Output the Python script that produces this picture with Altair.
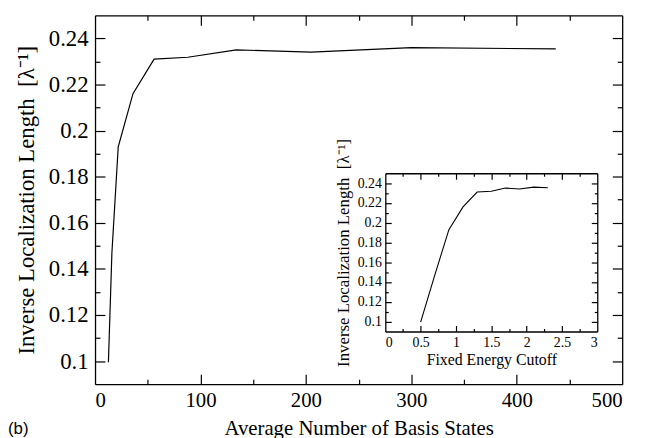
import altair as alt
import pandas as pd

# ---- data ----
basis_states = [12.7, 16, 22, 36, 56, 88, 134, 205, 300, 437]
energy_cutoff = [0.5, 0.7, 0.9, 1.1, 1.3, 1.5, 1.7, 1.9, 2.1, 2.3]
inv_loc_length = [0.0995, 0.147, 0.193, 0.216, 0.231, 0.2318, 0.235, 0.234, 0.236, 0.2354]

main_x_labels = [0, 100, 200, 300, 400, 500]
main_x_major = [100, 200, 300, 400]
main_x_minor = [50, 150, 250, 350, 450]
main_y_labels = [0.10, 0.12, 0.14, 0.16, 0.18, 0.20, 0.22, 0.24]
main_y_minor = [0.11, 0.13, 0.15, 0.17, 0.19, 0.21, 0.23]
inset_x_labels = [0, 0.5, 1, 1.5, 2, 2.5, 3]
inset_x_major = [0.5, 1, 1.5, 2, 2.5]
inset_x_minor = [0.25, 0.75, 1.25, 1.75, 2.25, 2.75]
inset_y_labels = main_y_labels
inset_y_minor = main_y_minor
panel_label = ["(b)"]

main_df = pd.DataFrame({"x": basis_states, "y": inv_loc_length})
inset_df = pd.DataFrame({"x": energy_cutoff, "y": inv_loc_length})
label_df = pd.DataFrame({"t": panel_label})

W, H = 533, 373
# inset frame, in pixels of the main plot area
IX0, IX1 = 293.5, 507.8
IYT, IYB = 159.7, 319.7

SERIF = "Liberation Serif"
YTITLE = "Inverse Localization Length\u00a0 [\u03bb\u207b\u00b9]"

common = dict(labelFont=SERIF, titleFont=SERIF, labelColor="black",
              titleColor="black", domainColor="black", tickColor="black",
              domainWidth=1.3, tickWidth=1.2, grid=False, titleFontWeight="normal")


def sc(domain, rng=None):
    if rng is None:
        return alt.Scale(domain=domain, nice=False, zero=False)
    return alt.Scale(domain=domain, range=rng, nice=False, zero=False)


def main_scales():
    return sc([0, 500]), sc([0.09, 0.25])


def inset_scales():
    return sc([0, 3], [IX0, IX1]), sc([0.09, 0.25], [IYB, IYT])


def tick_layer(df, scales, xorient, xoffset, xvals, yorient, yoffset, yvals, size, domain):
    xsc, ysc = scales
    return alt.Chart(df).mark_line(opacity=0).encode(
        x=alt.X("x:Q", scale=xsc, axis=alt.Axis(
            orient=xorient, offset=xoffset, values=xvals, labels=False,
            domain=domain, tickSize=size, title=None, **common)),
        y=alt.Y("y:Q", scale=ysc, axis=alt.Axis(
            orient=yorient, offset=yoffset, values=yvals, labels=False,
            domain=domain, tickSize=size, title=None, **common)),
    )


# main: line + labelled axes
mx, my = main_scales()
main1 = alt.Chart(main_df).mark_line(color="black", strokeWidth=1.2).encode(
    x=alt.X("x:Q", scale=mx, axis=alt.Axis(
        orient="bottom", values=main_x_labels, format="d", ticks=False, tickSize=0,
        labelPadding=6, labelFontSize=21, title="Average Number of Basis States",
        titleFontSize=21, titlePadding=7, **common)),
    y=alt.Y("y:Q", scale=my, axis=alt.Axis(
        orient="left", values=main_y_labels, format=".2~f", ticks=False, tickSize=0,
        labelPadding=7, labelFontSize=23, title=YTITLE, titleFontSize=23,
        titlePadding=10, **common)),
)
# inward ticks: bottom/left (major, minor), top/right with frame (major, minor)
main2 = tick_layer(main_df, main_scales(), "top", -H, main_x_major,
                   "right", -W, main_y_labels, 10, False)
main3 = tick_layer(main_df, main_scales(), "top", -H, main_x_minor,
                   "right", -W, main_y_minor, 5, False)
main4 = tick_layer(main_df, main_scales(), "bottom", -H, main_x_major,
                   "left", -W, main_y_labels, 10, True)
main5 = tick_layer(main_df, main_scales(), "bottom", -H, main_x_minor,
                   "left", -W, main_y_minor, 5, False)

# inset
ix, iy = inset_scales()
inset1 = alt.Chart(inset_df).mark_line(color="black", strokeWidth=1.1).encode(
    x=alt.X("x:Q", scale=ix, axis=alt.Axis(
        orient="bottom", offset=IYB - H, values=inset_x_labels, format=".1~f",
        ticks=False, tickSize=0, labelPadding=4, labelFontSize=14,
        title="Fixed Energy Cutoff", titleFontSize=16, titlePadding=2, **common)),
    y=alt.Y("y:Q", scale=iy, axis=alt.Axis(
        orient="left", offset=-IX0, values=inset_y_labels, format=".2~f",
        ticks=False, tickSize=0, labelPadding=4, labelFontSize=14,
        title=YTITLE, titleFontSize=17, titlePadding=5, **common)),
)
inset2 = tick_layer(inset_df, inset_scales(), "top", -IYB, inset_x_major,
                    "right", IX0 - W, inset_y_labels, 6, False)
inset3 = tick_layer(inset_df, inset_scales(), "top", -IYB, inset_x_minor,
                    "right", IX0 - W, inset_y_minor, 3, False)
inset4 = tick_layer(inset_df, inset_scales(), "bottom", IYT - H, inset_x_major,
                    "left", -IX1, inset_y_labels, 6, True)
inset5 = tick_layer(inset_df, inset_scales(), "bottom", IYT - H, inset_x_minor,
                    "left", -IX1, inset_y_minor, 3, False)

panel = alt.Chart(label_df).mark_text(
    font="Liberation Sans", fontSize=17, align="left", baseline="alphabetic",
    color="black").encode(text="t:N", x=alt.value(-88), y=alt.value(H + 50))

chart = alt.layer(main1, main2, main3, main4, main5,
                  inset1, inset2, inset3, inset4, inset5, panel).resolve_scale(
    x="independent", y="independent").resolve_axis(
    x="independent", y="independent").properties(
    width=W, height=H,
    autosize=alt.AutoSizeParams(type="none"),
    padding={"left": 88, "top": 5, "right": 17, "bottom": 52},
).configure_view(stroke=None).configure_axis(
    labelFont=SERIF, titleFont=SERIF)

chart.save("out.html", embed_options={"renderer": "svg", "actions": False})
